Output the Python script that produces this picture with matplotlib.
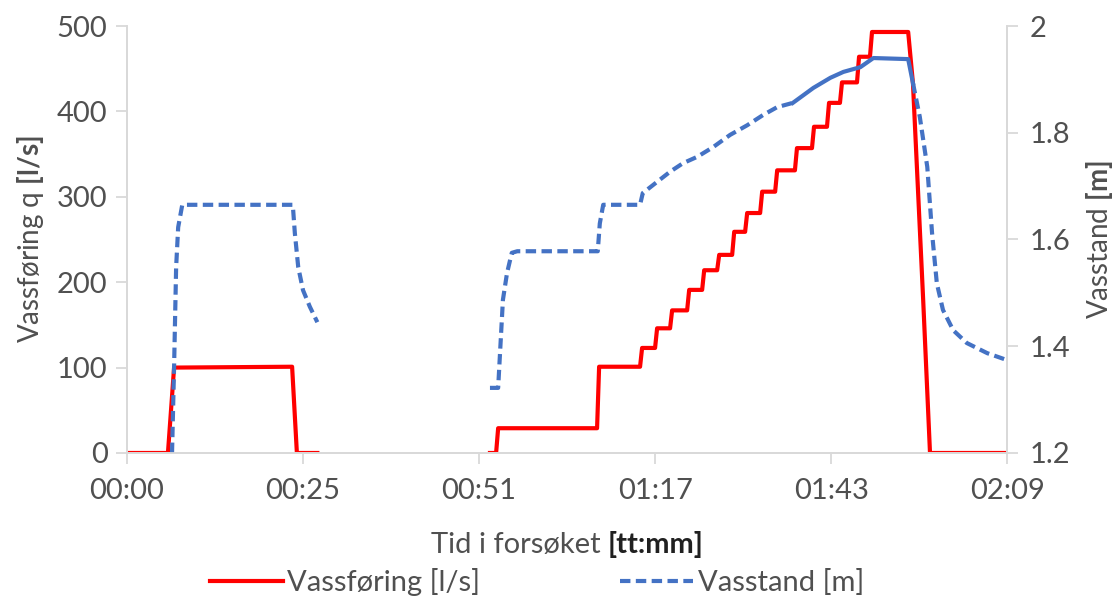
import matplotlib
matplotlib.use("Agg")
import matplotlib.pyplot as plt
from matplotlib.offsetbox import TextArea, HPacker, AnchoredOffsetbox

plt.rcParams['font.family'] = ['Lato', 'DejaVu Sans']
plt.rcParams['mathtext.fontset'] = 'custom'
plt.rcParams['mathtext.rm'] = 'Lato'
plt.rcParams['mathtext.bf'] = 'Lato:bold'

# tid i minutter, vassføring i l/s
q_tid_1 = [0, 6.0, 6.9, 24.2, 24.9, 27.9]
q_verdi_1 = [0, 0, 100, 101, 0, 0]

# trappetrinn i andre forsøksdel
q_trinn_tid = [53.2, 54.1, 68.9, 75.2, 77.4, 79.6, 82.1, 84.3, 86.5, 88.7, 90.6,
               92.8, 95.0, 97.9, 100.4, 102.6, 104.5, 107.0, 108.9]
q_trinn_verdi = [0, 29, 101, 123, 146, 167, 191, 214, 232, 259, 281,
                 306, 331, 357, 382, 410, 434, 464, 493]
q_slutt_tid = [114.5, 115.2, 116.7, 117.7, 129.0]
q_slutt_verdi = [493, 433, 179, 0, 0]

# vasstand i m
h_tid_1 = [6.6, 6.9, 7.2, 7.5, 8.1, 24.3, 24.6, 25.1, 25.8, 26.8, 27.9]
h_verdi_1 = [1.2, 1.361, 1.548, 1.623, 1.665, 1.665, 1.612, 1.548, 1.505, 1.474, 1.445]

h_tid_2 = [53.2, 54.4, 54.7, 55.1, 55.7, 56.4, 57.2, 69.0, 69.3, 69.8, 75.2, 75.6,
           77.7, 79.6, 81.5, 83.6, 85.9, 88.4, 90.9, 93.2, 95.3, 97.6]
h_verdi_2 = [1.322, 1.322, 1.393, 1.487, 1.537, 1.575, 1.578, 1.578, 1.63, 1.665, 1.665, 1.687,
             1.708, 1.727, 1.743, 1.755, 1.773, 1.796, 1.814, 1.833, 1.848, 1.856]
h_tid_3 = [97.6, 100.6, 103.1, 105.0, 107.5, 109.4, 114.5, 115.2]
h_verdi_3 = [1.856, 1.884, 1.903, 1.914, 1.923, 1.940, 1.938, 1.893]
h_tid_4 = [115.2, 116.2, 117.3, 118.0, 118.7, 119.6, 121.1, 123.1, 126.1, 129.0]
h_verdi_4 = [1.893, 1.830, 1.736, 1.612, 1.518, 1.468, 1.430, 1.406, 1.387, 1.374]

x_ticks = [0, 25.8, 51.6, 77.4, 103.2, 129]
x_labels = ['00:00', '00:25', '00:51', '01:17', '01:43', '02:09']

# bygg trappetrinn
q_tid_2, q_verdi_2 = [], []
for i, (t, v) in enumerate(zip(q_trinn_tid, q_trinn_verdi)):
    if i > 0:
        q_tid_2.append(t)
        q_verdi_2.append(q_trinn_verdi[i - 1])
        t = t + 0.3
    q_tid_2.append(t)
    q_verdi_2.append(v)
q_tid_2 += q_slutt_tid
q_verdi_2 += q_slutt_verdi

red = '#ff0000'
blue = '#4472c4'
grey = '#d9d9d9'
txt = '#505050'
fs = 21

fig = plt.figure(figsize=(11.19, 5.98), dpi=100)
ax = fig.add_axes([0.1135, 0.2425, 0.7865, 0.714])
ax2 = ax.twinx()

ax.plot(q_tid_1, q_verdi_1, color=red, lw=3, label='Vassføring [l/s]')
ax.plot(q_tid_2, q_verdi_2, color=red, lw=3)

ls = dict(color=blue, lw=3, dashes=(2.5, 1.3))
ax2.plot(h_tid_1, h_verdi_1, label='Vasstand [m]', **ls)
ax2.plot(h_tid_2, h_verdi_2, **ls)
ax2.plot(h_tid_3, h_verdi_3, color=blue, lw=3)
ax2.plot(h_tid_4, h_verdi_4, **ls)

ax.set_xlim(0, 129)
ax.set_ylim(0, 500)
ax2.set_ylim(1.2, 2.0)
ax.set_xticks(x_ticks)
ax.set_xticklabels(x_labels)
ax.set_yticks(range(0, 501, 100))
ax2.set_yticks([1.2, 1.4, 1.6, 1.8, 2.0])
ax2.set_yticklabels(['1.2', '1.4', '1.6', '1.8', '2'])

for a in (ax, ax2):
    a.spines['top'].set_visible(False)
    for s in ('left', 'right', 'bottom'):
        a.spines[s].set_color(grey)
        a.spines[s].set_linewidth(1.3)
    a.tick_params(colors=grey, labelcolor=txt, labelsize=fs, length=8, width=1.3)
ax.tick_params(axis='x', pad=10)
ax.tick_params(axis='y', pad=6)
ax2.tick_params(axis='y', pad=8)

ax.set_ylabel(r'Vassføring q $\mathbf{[l/s]}$', fontsize=fs - 1, color=txt, labelpad=8)
ax2.set_ylabel(r'Vasstand $\mathbf{[m]}$', fontsize=fs - 1, color=txt, labelpad=10)

# x-aksetittel med fet enhet
xl = HPacker(children=[TextArea('Tid i forsøket ', textprops=dict(fontsize=fs, color=txt)),
                       TextArea('[tt:mm]', textprops=dict(fontsize=fs, color='#202020', weight='bold'))],
             pad=0, sep=0, align='baseline')
fig.add_artist(AnchoredOffsetbox(loc='center', child=xl, frameon=False, pad=0,
                                 bbox_to_anchor=(0.507, 0.09), bbox_transform=fig.transFigure))

h1, l1 = ax.get_legend_handles_labels()
h2, l2 = ax2.get_legend_handles_labels()
fig.legend(h1 + h2, l1 + l2, loc='center', bbox_to_anchor=(0.48, 0.027), ncol=2,
           frameon=False, fontsize=fs, handlelength=2.5, handletextpad=0.15,
           columnspacing=4.8, labelcolor=txt)

fig.savefig('out.png', dpi=100)
